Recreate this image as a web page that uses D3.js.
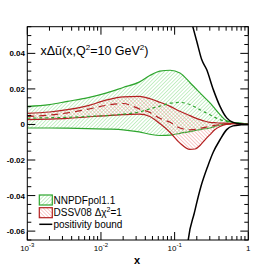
<!DOCTYPE html>
<html><head><meta charset="utf-8">
<script src="https://cdn.jsdelivr.net/npm/d3@7"></script>
<style>
body{margin:0;background:#fff;}
svg{display:block;font-family:"Liberation Sans",Arial,Helvetica,sans-serif;}
</style></head>
<body>
<script>
const xGrid = [0.001,0.002,0.0035,0.0065,0.012,0.02,0.033,0.046,0.063,0.087,0.118,0.161,0.19,0.221,0.26,0.302,0.35,0.413,0.5,0.62,0.8,1];
const nnpdfUp  = [0.0102,0.0112,0.013,0.015,0.0178,0.0208,0.0238,0.0275,0.0300,0.0305,0.029,0.0236,0.0205,0.0178,0.0148,0.0121,0.009,0.0055,0.0022,0.0012,0.0008,0];
const nnpdfMid = [0.0035,0.0038,0.004,0.0045,0.005,0.0058,0.007,0.0088,0.0103,0.012,0.0124,0.0112,0.0098,0.0083,0.0068,0.0055,0.004,0.0027,0.0017,0.0011,0.0006,0];
const nnpdfLo  = [-0.002,-0.002,-0.0021,-0.0023,-0.0026,-0.003,-0.0042,-0.0055,-0.0062,-0.006,-0.005,-0.004,-0.0034,-0.0029,-0.0024,-0.002,-0.0012,-0.0003,0.0003,0.0006,0.0004,0];
const dssvUp   = [0.0062,0.007,0.0083,0.0105,0.0138,0.0155,0.0158,0.0145,0.0125,0.0102,0.0074,0.005,0.0037,0.0027,0.0018,0.0012,0.001,0.0008,0.0007,0.0005,0.0003,0];
const dssvMid  = [0.0045,0.0053,0.0065,0.0085,0.0108,0.0118,0.0088,0.0068,0.0035,0.0012,-0.002,-0.003,-0.0028,-0.0022,-0.0016,-0.001,-0.0005,-0.0001,0.0002,0.0002,0.0001,0];
const dssvLo   = [0.0027,0.003,0.0034,0.0042,0.005,0.0055,0.0058,0.0045,0.0005,-0.0045,-0.0105,-0.014,-0.0138,-0.0118,-0.0085,-0.0057,-0.003,-0.0011,0.0001,0.0004,0.0003,0];
const posUpX = [0.16,0.176,0.2,0.233,0.272,0.335,0.413,0.509,0.62,0.8,1];
const posUp  = [0.0615,0.0552,0.0467,0.0365,0.0309,0.0196,0.0102,0.0037,0.0012,0.0003,0];
const posLoX = [0.15,0.153,0.185,0.228,0.281,0.335,0.413,0.509,0.62,0.8,1];
const posLo  = [-0.068,-0.0649,-0.0498,-0.0348,-0.0236,-0.0155,-0.0086,-0.0029,-0.0008,-0.0002,0];
const yTicks = [-0.06,-0.04,-0.02,0,0.02,0.04];
const yTickLabels = ["-0.06","-0.04","-0.02","0","0.02","0.04"];
const xTicks = [0.001,0.01,0.1,1];
const xTickExp = ["-3","-2","-1",null];
const legendLabels = ["NNPDFpol1.1","DSSV08 Δχ","positivity bound"];

const W=276,H=267;
const L=27.3,R=248.3,T=26.7,B=240;
const x=d3.scaleLog().domain([1e-3,1]).range([L,R]);
const y=d3.scaleLinear().domain([-0.065,0.055]).range([B,T]);
const svg=d3.select("body").append("svg").attr("width",W).attr("height",H);
const defs=svg.append("defs");
const gp=defs.append("pattern").attr("id","hg").attr("patternUnits","userSpaceOnUse").attr("width",2.6).attr("height",2.6).attr("patternTransform","rotate(45)");
gp.append("line").attr("x1",0).attr("y1",0).attr("x2",0).attr("y2",2.6).attr("stroke","#8fe08f").attr("stroke-width",1);
const rp=defs.append("pattern").attr("id","hr").attr("patternUnits","userSpaceOnUse").attr("width",2.6).attr("height",2.6).attr("patternTransform","rotate(-45)");
rp.append("line").attr("x1",0).attr("y1",0).attr("x2",0).attr("y2",2.6).attr("stroke","#f29595").attr("stroke-width",1);
defs.append("clipPath").attr("id","clip").append("rect").attr("x",L).attr("y",T).attr("width",R-L).attr("height",B-T);

const g=svg.append("g").attr("clip-path","url(#clip)");
const idx=xGrid.map((d,i)=>i);
const area=(lo,up)=>d3.area().x(i=>x(xGrid[i])).y0(i=>y(lo[i])).y1(i=>y(up[i])).curve(d3.curveMonotoneX)(idx);
const line=(arr)=>d3.line().x(i=>x(xGrid[i])).y(i=>y(arr[i])).curve(d3.curveMonotoneX)(idx);
const line2=(xs,vs)=>d3.line().x((d,i)=>x(xs[i])).y(d=>y(d)).curve(d3.curveMonotoneX)(vs);

const green="#2ea62e", red="#b32020";
g.append("path").attr("d",area(nnpdfLo,nnpdfUp)).attr("fill","url(#hg)");
g.append("path").attr("d",line(nnpdfUp)).attr("fill","none").attr("stroke",green).attr("stroke-width",1.2);
g.append("path").attr("d",line(nnpdfLo)).attr("fill","none").attr("stroke",green).attr("stroke-width",1.2);
g.append("path").attr("d",area(dssvLo,dssvUp)).attr("fill","url(#hr)");
g.append("path").attr("d",line(dssvUp)).attr("fill","none").attr("stroke",red).attr("stroke-width",1.2);
g.append("path").attr("d",line(dssvLo)).attr("fill","none").attr("stroke",red).attr("stroke-width",1.2);
g.append("path").attr("d",line(nnpdfMid)).attr("fill","none").attr("stroke",green).attr("stroke-width",1.2).attr("stroke-dasharray","3,3");
g.append("path").attr("d",line(dssvMid)).attr("fill","none").attr("stroke",red).attr("stroke-width",1.2).attr("stroke-dasharray","7,5");
g.append("path").attr("d",line2(posUpX,posUp)).attr("fill","none").attr("stroke","#000").attr("stroke-width",1.5);
g.append("path").attr("d",line2(posLoX,posLo)).attr("fill","none").attr("stroke","#000").attr("stroke-width",1.5);

// frame
svg.append("rect").attr("x",L).attr("y",T).attr("width",R-L).attr("height",B-T).attr("fill","none").attr("stroke","#000").attr("stroke-width",1);
const ax=svg.append("g").attr("stroke","#000").attr("stroke-width",1);
const yMinor=d3.range(-0.065,0.0551,0.005).map(v=>Math.round(v*1000)/1000);
yMinor.forEach(v=>{
  const major=yTicks.some(t=>Math.abs(t-v)<1e-9);
  const len=major?8:4;
  ax.append("line").attr("x1",L).attr("x2",L+len).attr("y1",y(v)).attr("y2",y(v));
  ax.append("line").attr("x1",R).attr("x2",R-len).attr("y1",y(v)).attr("y2",y(v));
});
const xMinor=[];
[0.001,0.01,0.1].forEach(d=>{for(let k=2;k<=9;k++)xMinor.push(d*k);});
xMinor.forEach(v=>{
  ax.append("line").attr("x1",x(v)).attr("x2",x(v)).attr("y1",B).attr("y2",B-4);
  ax.append("line").attr("x1",x(v)).attr("x2",x(v)).attr("y1",T).attr("y2",T+4);
});
xTicks.forEach(v=>{
  ax.append("line").attr("x1",x(v)).attr("x2",x(v)).attr("y1",B).attr("y2",B-8);
  ax.append("line").attr("x1",x(v)).attr("x2",x(v)).attr("y1",T).attr("y2",T+8);
});
yTicks.forEach((v,i)=>{
  svg.append("text").attr("x",25).attr("y",y(v)+3).attr("text-anchor","end").attr("font-size",8).attr("font-weight","bold").text(yTickLabels[i]);
});
xTicks.forEach((v,i)=>{
  const t=svg.append("text").attr("x",x(v)).attr("y",251).attr("text-anchor","middle").attr("font-size",8);
  if(xTickExp[i]){t.append("tspan").text("10");t.append("tspan").attr("font-size",6).attr("dy",-4).text(xTickExp[i]);}
  else t.text("1");
});
svg.append("text").attr("x",137).attr("y",264).attr("text-anchor","middle").attr("font-size",11).attr("font-weight","bold").text("x");
const tt=svg.append("text").attr("x",40.5).attr("y",55).attr("font-size",12.5);
tt.append("tspan").text("xΔū(x,Q");
tt.append("tspan").attr("font-size",8).attr("dy",-5).text("2");
tt.append("tspan").attr("dy",5).text("=10 GeV");
tt.append("tspan").attr("font-size",8).attr("dy",-5).text("2");
tt.append("tspan").attr("dy",5).text(")");
const lx=39.3;
svg.append("rect").attr("x",lx).attr("y",195).attr("width",13).attr("height",10).attr("fill","url(#hg)").attr("stroke",green).attr("stroke-width",1.2);
svg.append("rect").attr("x",lx).attr("y",207.7).attr("width",13).attr("height",10).attr("fill","url(#hr)").attr("stroke",red).attr("stroke-width",1.2);
svg.append("line").attr("x1",lx).attr("x2",lx+13).attr("y1",224.3).attr("y2",224.3).attr("stroke","#000").attr("stroke-width",1.5);
svg.append("text").attr("x",53.5).attr("y",203.5).attr("font-size",10).text(legendLabels[0]);
const l2=svg.append("text").attr("x",53.5).attr("y",216.3).attr("font-size",10);
l2.append("tspan").text(legendLabels[1]);
l2.append("tspan").attr("font-size",7).attr("dy",-4).text("2");
l2.append("tspan").attr("dy",4).text("=1");
svg.append("text").attr("x",53.5).attr("y",227.5).attr("font-size",10).text(legendLabels[2]);
</script>
</body></html>
